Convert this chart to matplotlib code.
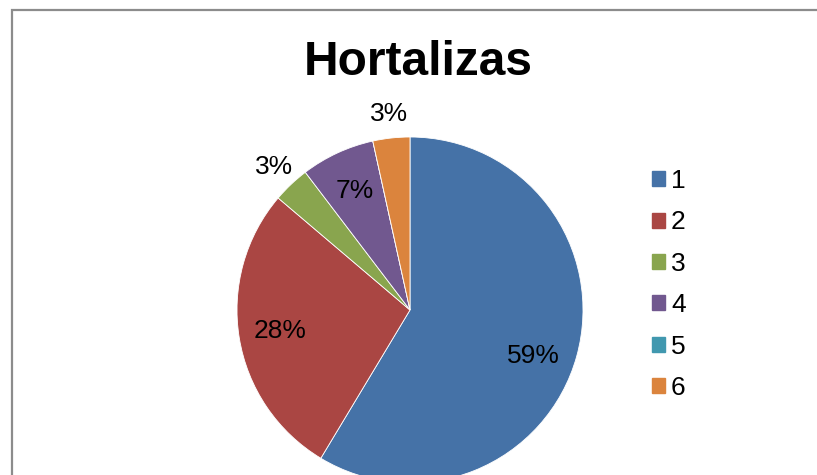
import numpy as np
import matplotlib.pyplot as plt
from matplotlib.patches import Rectangle

plt.rcParams['font.family'] = ['Liberation Sans', 'DejaVu Sans']

# counts per category
categories = ['1', '2', '3', '4', '5', '6']
counts = [17, 8, 1, 2, 0, 1]
colors = ['#4572A7', '#AA4643', '#89A54E', '#71588F', '#4198AF', '#DB843D']

W, H = 817, 475
fig = plt.figure(figsize=(W / 100, H / 100), dpi=100)

# grey chart-area frame (runs off the right and bottom edges)
fig.patches.append(Rectangle((12 / W, -0.2), 1.2, 1.2 - 9.5 / H,
                             transform=fig.transFigure, fill=False,
                             edgecolor='#8c8c8c', linewidth=1.6))

# pie centred at (410, 310) px with radius 173 px
cx, cy, r = 410, 310, 173
ax = fig.add_axes([(cx - r) / W, (H - cy - r) / H, 2 * r / W, 2 * r / H])
wedges, _ = ax.pie(counts, colors=colors, startangle=90, counterclock=False,
                   wedgeprops=dict(linewidth=0.6, edgecolor='white'))
ax.set_xlim(-1, 1)
ax.set_ylim(-1, 1)
ax.set_aspect('equal')
ax.axis('off')
for w in wedges:
    w.set_clip_on(False)

# percentage labels: inside for big slices, just outside for small ones
total = sum(counts)
for w, c in zip(wedges, counts):
    if c == 0:
        continue
    pct = c / total * 100
    mid = np.deg2rad((w.theta1 + w.theta2) / 2)
    if pct >= 50:
        mid -= np.deg2rad(5)
    dist = 0.76 if pct >= 5 else 1.14
    ax.text(dist * np.cos(mid), dist * np.sin(mid), f'{pct:.0f}%',
            ha='center', va='center', fontsize=19, color='black')

fig.text(418 / W, 1 - 75 / H, 'Hortalizas', ha='center', va='baseline',
         fontsize=34.5, fontweight='bold')

handles = [Rectangle((0, 0), 1, 1, color=c) for c in colors]
fig.legend(handles, categories, loc='upper left',
           bbox_to_anchor=(652 / W, 1 - 169 / H), frameon=False,
           fontsize=19, handlelength=0.5, handleheight=0.5,
           handletextpad=0.22, labelspacing=0.66, borderpad=0,
           borderaxespad=0)

fig.savefig('out.png', dpi=100)
